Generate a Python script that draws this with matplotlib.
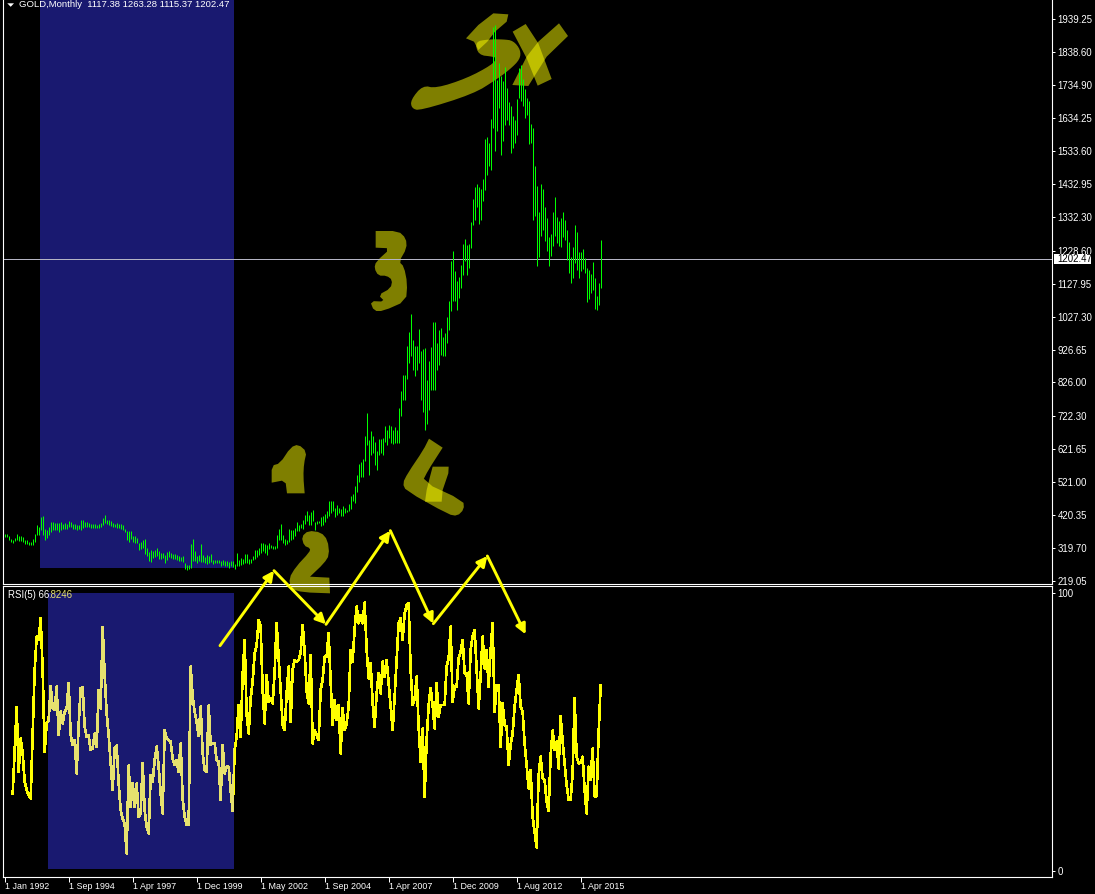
import numpy as np
import matplotlib
matplotlib.use('Agg')
import matplotlib.pyplot as plt
from matplotlib.patches import Polygon, Rectangle, FancyArrowPatch

# monthly high / low of each bar
bar_high = [363, 363, 357, 348, 345, 350, 362, 357, 355, 353, 345, 345, 339, 339, 347, 362, 390, 383, 414, 416,
            378, 375, 383, 398, 398, 396, 396, 396, 398, 394, 396, 393, 403, 398, 394, 394, 390, 390, 404, 404,
            398, 398, 396, 394, 392, 392, 389, 392, 396, 411, 421, 406, 404, 401, 396, 394, 396, 394, 394, 390,
            377, 370, 370, 370, 357, 357, 350, 336, 339, 345, 347, 319, 306, 312, 309, 312, 319, 309, 304, 304,
            299, 306, 311, 304, 301, 301, 299, 296, 292, 296, 273, 268, 268, 332, 347, 309, 294, 299, 332, 299,
            292, 299, 296, 302, 283, 283, 283, 283, 280, 281, 278, 278, 275, 280, 280, 271, 304, 283, 289, 285,
            301, 301, 286, 286, 296, 314, 314, 319, 336, 336, 332, 329, 334, 327, 326, 326, 360, 378, 394, 360,
            347, 345, 377, 375, 375, 380, 398, 390, 394, 406, 421, 433, 421, 430, 436, 398, 403, 403, 414, 418,
            424, 433, 462, 462, 464, 441, 452, 441, 438, 449, 441, 436, 455, 479, 485, 508, 544, 577, 581, 591,
            661, 732, 651, 678, 661, 645, 615, 654, 654, 656, 694, 681, 696, 693, 679, 691, 681, 747, 801, 850,
            850, 939, 979, 1036, 957, 938, 938, 990, 921, 928, 931, 834, 892, 933, 1010, 1010, 946, 985, 994, 964,
            977, 1026, 1074, 1199, 1229, 1166, 1135, 1148, 1184, 1250, 1266, 1246, 1250, 1317, 1388, 1425, 1434, 1425, 1419, 1449,
            1572, 1578, 1559, 1633, 1913, 1921, 1753, 1804, 1765, 1750, 1791, 1727, 1684, 1673, 1642, 1630, 1695, 1788, 1798, 1756,
            1725, 1697, 1686, 1617, 1605, 1489, 1426, 1348, 1434, 1419, 1363, 1329, 1270, 1281, 1348, 1394, 1332, 1319, 1329, 1348,
            1324, 1294, 1256, 1210, 1241, 1307, 1286, 1225, 1225, 1235, 1207, 1176, 1169, 1159, 1195, 1146, 1092, 1130, 1263]
bar_low = [352, 352, 345, 337, 336, 340, 345, 342, 342, 339, 330, 330, 327, 327, 329, 339, 360, 359, 375, 360,
           343, 350, 360, 367, 375, 375, 373, 369, 375, 377, 377, 377, 385, 382, 377, 377, 373, 377, 373, 380,
           383, 385, 383, 381, 381, 381, 381, 381, 385, 390, 396, 394, 390, 388, 382, 383, 380, 380, 377, 373,
           368, 343, 339, 347, 339, 336, 336, 314, 316, 319, 300, 294, 280, 276, 289, 292, 294, 285, 285, 289,
           273, 281, 292, 289, 286, 285, 283, 280, 278, 276, 255, 253, 255, 258, 278, 280, 273, 278, 275, 275,
           273, 271, 273, 275, 271, 273, 273, 273, 263, 266, 265, 263, 258, 263, 260, 256, 263, 265, 268, 270,
           273, 273, 271, 273, 281, 285, 292, 299, 304, 309, 304, 299, 316, 319, 317, 316, 319, 345, 345, 334,
           327, 332, 339, 343, 347, 355, 370, 370, 380, 377, 394, 401, 390, 390, 401, 375, 394, 396, 387, 390,
           398, 411, 416, 426, 431, 414, 421, 426, 416, 416, 426, 428, 431, 438, 462, 457, 492, 520, 535, 535,
           584, 635, 544, 605, 610, 572, 559, 605, 610, 603, 643, 633, 656, 642, 638, 640, 642, 640, 722, 773,
           773, 836, 885, 906, 863, 847, 863, 885, 773, 737, 681, 700, 742, 802, 802, 802, 865, 880, 911, 906,
           906, 946, 987, 1044, 1074, 1074, 1047, 1085, 1115, 1156, 1197, 1156, 1176, 1236, 1307, 1324, 1363, 1311, 1324, 1380,
           1414, 1462, 1490, 1477, 1605, 1533, 1595, 1666, 1521, 1564, 1615, 1628, 1613, 1528, 1545, 1559, 1582, 1697, 1686, 1671,
           1635, 1645, 1556, 1559, 1324, 1336, 1181, 1209, 1273, 1292, 1258, 1227, 1181, 1212, 1243, 1273, 1253, 1243, 1241, 1271,
           1263, 1202, 1161, 1130, 1146, 1192, 1169, 1146, 1166, 1173, 1161, 1071, 1081, 1100, 1108, 1052, 1047, 1062, 1115]

# RSI(5), starts on the fifth bar
rsi_start = 4
rsi_values = [27.7, 42.9, 58.9, 35.7, 47.7, 42.3, 32.1, 29.1, 27.3, 26.1, 48.9, 72.3, 84.3, 83.1, 90.9, 72.3,
              42.9, 53.1, 54.3, 66.5, 58.5, 57.9, 66.3, 48.9, 57.3, 53.1, 57.3, 58.5, 67.7, 48.9, 45.3, 47.1,
              35.1, 52.5, 65.7, 66.1, 51.9, 48.3, 48.7, 43.5, 44.1, 49.5, 44.7, 65.1, 58.5, 87.7, 70.5, 56.7,
              48.9, 38.7, 29.1, 44.1, 45.1, 31.5, 21.9, 18.9, 17.1, 6.3, 37.9, 23.1, 31.7, 23.1, 31.5, 19.5,
              20.7, 38.9, 21.9, 15.9, 13.5, 34.5, 32.1, 39.9, 44.7, 37.5, 27.9, 20.7, 50.7, 47.7, 47.1, 46.5,
              40.5, 38.1, 39.9, 35.7, 45.9, 26.1, 19.5, 16.7, 16.7, 73.5, 62.7, 57.3, 53.7, 48.5, 59.1, 42.3,
              36.3, 35.7, 59.5, 45.3, 45.9, 45.9, 39.9, 39.3, 25.5, 45.3, 35.1, 37.5, 37.5, 29.1, 21.7, 43.5,
              48.3, 59.7, 48.3, 70.5, 83.1, 56.1, 49.5, 62.1, 68.1, 78.3, 81.3, 90.3, 87.9, 65.1, 53.1, 70.5,
              60.9, 62.1, 60.3, 71.7, 89.1, 76.5, 65.1, 52.5, 50.7, 63.9, 73.5, 53.7, 72.3, 75.9, 75.3, 75.9,
              78.3, 88.5, 78.9, 64.5, 60.3, 77.7, 45.9, 50.7, 48.9, 47.1, 65.1, 68.7, 77.1, 77.1, 85.5, 68.1,
              52.5, 61.5, 54.3, 59.7, 42.3, 58.5, 50.7, 53.1, 59.1, 79.5, 75.3, 87.3, 95.1, 89.1, 92.1, 89.1,
              96.5, 79.5, 69.3, 74.7, 60.3, 51.9, 63.9, 71.1, 63.9, 75.3, 69.9, 75.9, 67.5, 59.1, 50.7, 62.7,
              75.9, 89.1, 90.9, 83.1, 92.7, 95.7, 96.3, 72.3, 59.7, 62.1, 69.9, 51.9, 39.3, 51.3, 26.7, 47.1,
              59.7, 65.7, 59.7, 51.3, 67.5, 55.5, 59.7, 59.7, 59.7, 73.5, 76.5, 87.9, 60.9, 66.3, 66.3, 76.5,
              78.9, 83.1, 71.1, 71.1, 60.3, 79.5, 84.3, 86.7, 72.9, 58.5, 70.5, 84.3, 72.9, 79.5, 66.3, 79.5,
              89.1, 57.3, 66.9, 66.9, 44.7, 60.3, 52.5, 51.9, 38.1, 45.3, 49.5, 59.1, 65.1, 70.5, 59.1, 57.3,
              45.9, 38.1, 29.7, 36.3, 19.5, 14.1, 8.5, 34.5, 41.1, 33.3, 32.7, 24.9, 21.7, 41.7, 50.5, 43.5,
              46.5, 36.9, 55.7, 46.5, 38.7, 30.9, 25.7, 25.7, 35.1, 62.1, 41.1, 38.7, 38.9, 41.1, 29.1, 20.7,
              37.5, 32.7, 44.1, 26.9, 26.9, 49.5, 66.8]

price_ticks = [1939.25, 1838.60, 1734.90, 1634.25, 1533.60, 1432.95, 1332.30, 1228.60, 1127.95,
               1027.30, 926.65, 826.00, 722.30, 621.65, 521.00, 420.35, 319.70, 219.05]
date_ticks = [0, 32, 64, 96, 128, 160, 192, 224, 256, 288]
date_labels = ['1 Jan 1992', '1 Sep 1994', '1 Apr 1997', '1 Dec 1999', '1 May 2002',
               '1 Sep 2004', '1 Apr 2007', '1 Dec 2009', '1 Aug 2012', '1 Apr 2015']
last_price = 1202.47

W, H = 1095, 894
FONT = 'Liberation Sans'
BLUE = '#191970'
PALE = '#E6E16E'


def axes_box(left, top, right, bottom):
    return [left / W, 1 - bottom / H, (right - left) / W, (bottom - top) / H]


def zoomed(points, ox, oy, rounds=0):
    # shapes were traced on 3x crops of the screenshot
    pts = [(ox + x / 3, oy + y / 3) for x, y in points]
    for _ in range(rounds):
        # corner cutting, the marks were drawn with a round brush
        smooth = []
        for a, b in zip(pts, pts[1:] + pts[:1]):
            smooth.append((0.75 * a[0] + 0.25 * b[0], 0.75 * a[1] + 0.25 * b[1]))
            smooth.append((0.25 * a[0] + 0.75 * b[0], 0.25 * a[1] + 0.75 * b[1]))
        pts = smooth
    return pts


fig = plt.figure(figsize=(W / 100, H / 100), dpi=100, facecolor='black')

# hand drawn marks sit behind the bars
back = fig.add_axes([0, 0, 1, 1], zorder=0)
back.set_xlim(0, W)
back.set_ylim(H, 0)
back.axis('off')

# a repeated point keeps a square corner after the smoothing
shapes = [
    zoomed([(430, 40), (475, 43), (470, 65), (435, 95), (412, 125), (385, 150), (372, 125), (348, 115), (385, 75)], 350, 0),
    zoomed([(375, 125), (415, 118), (460, 118), (490, 122), (512, 150), (510, 178), (480, 208), (440, 238), (370, 282),
            (210, 332), (185, 325), (182, 300), (218, 256), (258, 265), (350, 235), (425, 195), (440, 175), (430, 170),
            (385, 165)], 350, 0, 2),
    zoomed([(488, 95), (527, 72), (565, 130), (605, 237), (563, 257), (530, 175)], 350, 0),
    zoomed([(627, 70), (654, 108), (590, 170), (535, 258), (487, 255), (530, 170), (565, 125)], 350, 0),
    zoomed([(77, 693), (77, 693), (145, 693), (168, 715), (170, 745), (147, 785), (162, 800), (172, 850), (168, 903),
            (100, 933), (72, 933), (60, 903), (105, 905), (85, 885), (122, 865), (127, 840), (110, 827), (85, 827),
            (73, 805), (78, 785), (122, 745), (77, 743), (77, 743)], 350, 0, 1),
    zoomed([(35, 497), (60, 490), (92, 442), (115, 433), (140, 455), (132, 490), (130, 530), (134, 580), (134, 580),
            (81, 580), (81, 580), (76, 540), (35, 548), (35, 548)], 260, 300, 1),
    zoomed([(507, 416), (507, 416), (548, 443), (548, 443), (537, 460), (505, 510), (487, 545), (610, 602), (612, 628),
            (592, 648), (565, 643), (438, 572), (428, 550), (443, 520), (490, 450)], 260, 300, 1),
    zoomed([(518, 500), (566, 500), (565, 520), (548, 570), (545, 605), (495, 605), (500, 570), (510, 530)], 260, 300),
    zoomed([(275, 35), (295, 17), (333, 22), (353, 45), (358, 90), (342, 115), (300, 155), (300, 155), (358, 158),
            (358, 158), (360, 205), (360, 205), (280, 202), (243, 192), (237, 160), (258, 125), (298, 82), (301, 70),
            (282, 62)], 210, 525, 1),
]
for pts in shapes:
    back.add_patch(Polygon(pts, closed=True, facecolor='#FFFF00', edgecolor='none', alpha=0.5))

# price panel
bars = np.arange(len(bar_high))
ax = fig.add_axes(axes_box(3, 0, 1052, 584), zorder=1)
ax.patch.set_visible(False)
ax.set_xlim(-0.83, 523.7)
ax.set_ylim(209, 1996.6)
ax.add_patch(Rectangle((17.67, 258.8), 97, 1996.6 - 258.8, facecolor=BLUE, edgecolor='none', antialiased=False, zorder=1))
ax.axhline(last_price, color='#B4B4C4', lw=0.72, zorder=2)
ax.vlines(bars, bar_low, bar_high, color='#00FF00', lw=0.72, zorder=3)
ax.yaxis.tick_right()
ax.set_yticks(price_ticks)
ax.set_yticklabels(['%.2f' % p for p in price_ticks])
ax.set_xticks([])
ax.spines['top'].set_visible(False)

# rsi panel
rsi_x = np.arange(len(rsi_values)) + rsi_start
ax2 = fig.add_axes(axes_box(3, 586, 1052, 877), zorder=1)
ax2.patch.set_visible(False)
ax2.set_xlim(-0.83, 523.7)
ax2.set_ylim(-2.16, 102.5)
rsi_box = Rectangle((21.67, 0.8), 93, 99.1, facecolor=BLUE, edgecolor='none', antialiased=False, zorder=1)
ax2.add_patch(rsi_box)
ax2.plot(rsi_x, rsi_values, color='#FFFF00', lw=1.2, antialiased=False, zorder=2)
pale_line, = ax2.plot(rsi_x, rsi_values, color=PALE, lw=1.2, antialiased=False, zorder=3)
pale_line.set_clip_path(rsi_box)
ax2.yaxis.tick_right()
ax2.set_yticks([0, 100])
ax2.set_xticks(date_ticks)
ax2.set_xticklabels(date_labels, ha='left')

for a in (ax, ax2):
    a.tick_params(axis='y', colors='white', length=2.5, width=0.72, pad=1.5, labelsize=6.9)
    a.tick_params(axis='x', colors='white', length=3.5, width=0.72, pad=0, labelsize=6.4)
    for lab in a.get_xticklabels() + a.get_yticklabels():
        lab.set_family(FONT)
    for lab in a.get_yticklabels():
        lab.set_verticalalignment('center_baseline')
    for s in a.spines.values():
        s.set_color('white')
        s.set_linewidth(0.8)

# arrows and text on top of everything
top = fig.add_axes([0, 0, 1, 1], zorder=5)
top.set_xlim(0, W)
top.set_ylim(H, 0)
top.axis('off')

arrow_path = zoomed([(30, 362), (192, 137), (348, 298), (541, 17), (670, 296), (832, 93), (947, 328)], 210, 525)
for p0, p1 in zip(arrow_path[:-1], arrow_path[1:]):
    top.add_patch(FancyArrowPatch(p0, p1, arrowstyle='-|>', mutation_scale=15, lw=2.1, color='#FFFF00',
                                  shrinkA=0, shrinkB=0))

top.add_patch(Polygon([(7.3, 3.3), (14, 3.3), (10.7, 6.8)], closed=True, facecolor='white', edgecolor='none'))
top.text(19, 4.5, 'GOLD,Monthly  1117.38 1263.28 1115.37 1202.47', color='white', fontsize=6.8, family=FONT,
         va='center', ha='left')
top.text(8, 594.5, 'RSI(5) 66', color='white', fontsize=6.9, family=FONT, va='center', ha='left')
top.text(48.5, 594.5, '.8246', color=PALE, fontsize=6.9, family=FONT, va='center', ha='left')

top.add_patch(Rectangle((1054, 254), 37, 10, facecolor='white', edgecolor='none'))
top.text(1057, 259.5, '%.2f' % last_price, color='black', fontsize=6.9, family=FONT, va='center', ha='left')

fig.savefig('out.png', dpi=100, facecolor='black')
